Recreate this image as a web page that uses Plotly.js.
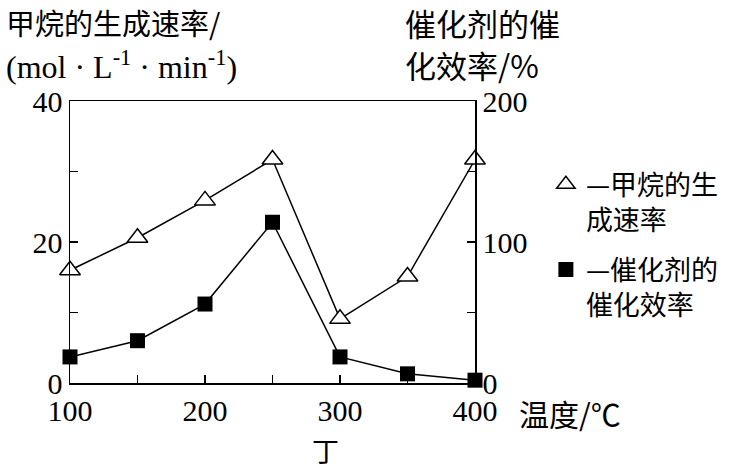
<!DOCTYPE html>
<html>
<head>
<meta charset="utf-8">
<script src="https://cdn.plot.ly/plotly-3.0.1.min.js"></script>
<style>
  body { margin: 0; background: #fff; }
  #graphique { width: 755px; height: 471px; }
</style>
</head>
<body>
<div id="graphique"></div>
<script>
// températures (°C)
var temperatures = [100, 150, 200, 250, 300, 350, 400];
// vitesse de formation du méthane (axe gauche)
var vitesseMethane = [16, 20.6, 25.9, 31.7, 9.1, 15.1, 31.7];
// efficacité du catalyseur en % (axe droit)
var efficacite = [18.5, 30, 56, 114, 18.5, 6.5, 2];

// graduations (les petites graduations sans texte passent par "minor")
var xTicks = [100, 200, 300, 400];
var yTicks = [0, 20, 40];
var y2Ticks = [0, 100, 200];

var serif = '"Liberation Serif", "Times New Roman", serif';
var cjk = '"Noto Sans CJK SC", sans-serif';

document.addEventListener('DOMContentLoaded', function() {

    var traceEfficacite = {
        x: temperatures,
        y: efficacite,
        yaxis: 'y2',
        mode: 'lines+markers',
        showlegend: false,
        line: { color: '#000', width: 1.5 },
        marker: { symbol: 'square', size: 15, color: '#000' },
        cliponaxis: false
    };

    var traceMethane = {
        x: temperatures,
        y: vitesseMethane,
        mode: 'lines+markers',
        showlegend: false,
        line: { color: '#000', width: 1.5 },
        marker: { symbol: 'triangle-up', size: 18, color: '#fff', line: { color: '#000', width: 1.5 } },
        cliponaxis: false
    };

    // entrées de légende seulement
    var legMethane = {
        x: [null], y: [null],
        mode: 'markers',
        name: '—甲烷的生<br>成速率',
        legendgroup: 'a',
        marker: { symbol: 'triangle-up', size: 16, color: '#fff', line: { color: '#000', width: 1.5 } }
    };
    var legEfficacite = {
        x: [null], y: [null],
        mode: 'markers',
        name: '—催化剂的<br>催化效率',
        legendgroup: 'b',
        marker: { symbol: 'square', size: 15, color: '#000' }
    };

    function axe(extra, pas) {
        var a = {
            showline: true,
            linecolor: '#000',
            linewidth: 1.5,
            showgrid: false,
            zeroline: false,
            ticks: 'inside',
            ticklen: 8,
            tickwidth: 1.2,
            tickcolor: '#000',
            tickfont: { family: serif, size: 30, color: '#000' },
            minor: { dtick: pas, ticks: 'inside', ticklen: 8, tickwidth: 1.2, tickcolor: '#000', showgrid: false }
        };
        return Object.assign(a, extra);
    }

    var layout = {
        width: 755,
        height: 471,
        font: { family: serif, color: '#000' },
        margin: { l: 70, r: 280, t: 101, b: 88 },
        paper_bgcolor: '#fff',
        plot_bgcolor: '#fff',
        xaxis: axe({
            range: [100, 400],
            tickmode: 'array',
            tickvals: xTicks,
            mirror: true
        }, 50),
        yaxis: axe({
            range: [0, 40],
            tickmode: 'array',
            tickvals: yTicks
        }, 10),
        yaxis2: axe({
            range: [0, 200],
            overlaying: 'y',
            side: 'right',
            tickmode: 'array',
            tickvals: y2Ticks
        }, 50),
        legend: {
            x: 1.175, xanchor: 'left',
            y: 0.79, yanchor: 'top',
            valign: 'top',
            tracegroupgap: 12,
            font: { family: cjk, size: 27, color: '#000' },
            bgcolor: 'rgba(0,0,0,0)'
        },
        annotations: [
            { text: '甲烷的生成速率/', xref: 'paper', yref: 'paper', x: -0.162, y: 1.28,
              xanchor: 'left', yanchor: 'middle', showarrow: false,
              font: { family: cjk, size: 29, color: '#000' } },
            { text: '(mol · L<sup>-1</sup> · min<sup>-1</sup>)', xref: 'paper', yref: 'paper', x: -0.162, y: 1.128,
              xanchor: 'left', yanchor: 'middle', showarrow: false,
              font: { family: serif, size: 32, color: '#000' } },
            { text: '催化剂的催', xref: 'paper', yref: 'paper', x: 0.822, y: 1.277,
              xanchor: 'left', yanchor: 'middle', showarrow: false,
              font: { family: cjk, size: 31, color: '#000' } },
            { text: '化效率/%', xref: 'paper', yref: 'paper', x: 0.822, y: 1.128,
              xanchor: 'left', yanchor: 'middle', showarrow: false,
              font: { family: cjk, size: 31, color: '#000' } },
            { text: '温度/℃', xref: 'paper', yref: 'paper', x: 1.104, y: -0.106,
              xanchor: 'left', yanchor: 'middle', showarrow: false,
              font: { family: cjk, size: 30, color: '#000' } },
            { text: '丁', xref: 'paper', yref: 'paper', x: 0.63, y: -0.24,
              xanchor: 'center', yanchor: 'middle', showarrow: false,
              font: { family: cjk, size: 27, color: '#000' } }
        ]
    };

    Plotly.newPlot('graphique', [traceEfficacite, traceMethane, legMethane, legEfficacite], layout, { displayModeBar: false, staticPlot: true });
});
</script>
</body>
</html>
